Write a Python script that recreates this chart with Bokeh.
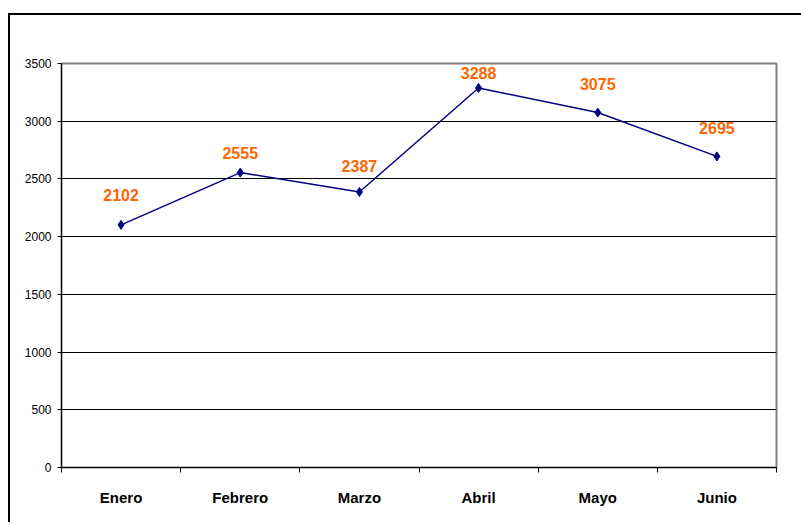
from bokeh.plotting import figure
from bokeh.models import ColumnDataSource, FixedTicker, LabelSet, Range1d
from bokeh.core.properties import value
from bokeh.layouts import column
from bokeh.embed import file_html
from bokeh.resources import INLINE

months = ["Enero", "Febrero", "Marzo", "Abril", "Mayo", "Junio"]
sales = [2102, 2555, 2387, 3288, 3075, 2695]
y_ticks = [0, 500, 1000, 1500, 2000, 2500, 3000, 3500]

# label vertical offsets (styling, px)
label_dy = [30, 20, 26, 15, 29, 28]

xs = [i + 0.5 for i in range(len(months))]
src = ColumnDataSource(dict(x=xs, y=sales, lab=[str(v) for v in sales], dy=label_dy))

p = figure(width=791, height=507, output_backend="svg", toolbar_location=None,
           x_range=Range1d(0, len(months)), y_range=Range1d(0, 3500),
           min_border_left=51, min_border_right=25, min_border_top=48, min_border_bottom=55)

p.outline_line_color = "#808080"
p.outline_line_width = 2

p.line("x", "y", source=src, line_color="#000080", line_width=1.5)
p.scatter("x", "y", source=src, marker="diamond", size=9, fill_color="#000080", line_color="#000080")

labels = LabelSet(x="x", y="y", text="lab", source=src, text_align="center",
                  text_baseline="middle", text_color="#FF6600", text_font_style="bold",
                  text_font_size="16px", text_font=value("Liberation Sans"))
labels.y_offset = {"field": "dy"}
p.add_layout(labels)

# y axis
p.yaxis.ticker = FixedTicker(ticks=y_ticks)
p.yaxis.axis_line_color = "black"
p.yaxis.major_tick_in = 0
p.yaxis.major_tick_out = 4
p.yaxis.minor_tick_line_color = None
p.yaxis.major_label_text_font = "Liberation Sans"
p.yaxis.major_label_text_font_size = "12px"
p.yaxis.major_label_standoff = 6
p.yaxis.major_label_text_color = "black"

# x axis
p.xaxis.ticker = FixedTicker(ticks=xs, minor_ticks=list(range(len(months) + 1)))
p.xaxis.major_label_overrides = {x: m for x, m in zip(xs, months)}
p.xaxis.major_tick_in = 0
p.xaxis.major_tick_out = 0
p.xaxis.minor_tick_in = 0
p.xaxis.minor_tick_out = 5
p.xaxis.minor_tick_line_color = "black"
p.xaxis.axis_line_color = "black"
p.xaxis.major_label_text_font = "Liberation Sans"
p.xaxis.major_label_text_font_style = "bold"
p.xaxis.major_label_text_font_size = "15px"
p.xaxis.major_label_standoff = 16
p.xaxis.major_label_text_color = "black"

p.xgrid.grid_line_color = None
p.ygrid.ticker = FixedTicker(ticks=y_ticks[1:-1])
p.ygrid.grid_line_color = "black"
p.ygrid.grid_line_width = 1

layout = column(p, styles={"border-left": "2px solid black", "border-top": "2px solid black",
                           "margin-left": "8px", "margin-top": "13px"})

open("out.html", "w").write(file_html(layout, INLINE))
